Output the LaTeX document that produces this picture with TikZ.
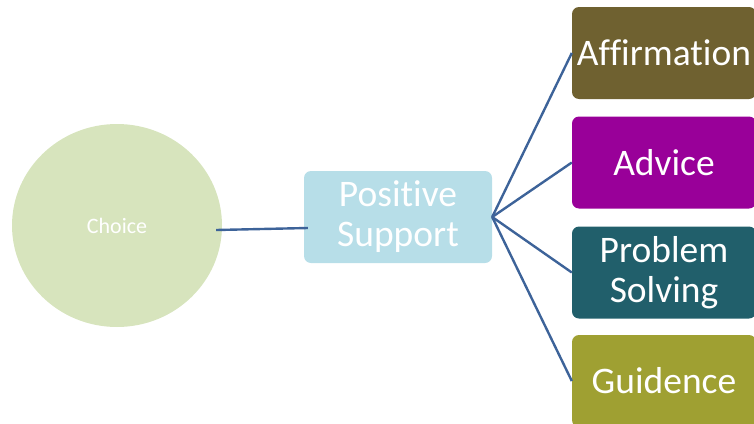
\documentclass[tikz,border=0pt]{standalone}
\usepackage{fontspec}
\setmainfont{Carlito}[Ligatures=NoCommon]
\usetikzlibrary{shapes.geometric}
\definecolor{circfill}{HTML}{D7E4BD}
\definecolor{psfill}{HTML}{B7DEE8}
\definecolor{affill}{HTML}{6F6130}
\definecolor{adfill}{HTML}{990099}
\definecolor{pbfill}{HTML}{215F6B}
\definecolor{gdfill}{HTML}{9FA032}
\definecolor{linkcol}{HTML}{3D6399}
\tikzset{
  bigbox/.style={rectangle, rounded corners=7pt, minimum width=184pt, minimum height=92pt,
    inner sep=0pt, text=white, align=center, font=\fontsize{37.5pt}{40pt}\selectfont},
  link/.style={draw=linkcol, line width=2.4pt}
}
\begin{document}
\begin{tikzpicture}[x=1pt,y=-1pt]
\useasboundingbox (0,0) rectangle (754,423);
\node[ellipse, fill=circfill, minimum width=210pt, minimum height=203pt, inner sep=0pt,
  text=white, font=\fontsize{22pt}{26pt}\selectfont] (choice) at (117,225.5) {Choice};
\node[bigbox, fill=psfill, minimum width=188pt] (ps) at (398,217) {Positive\\Support};
\node[bigbox, fill=affill] (af) at (664,53) {Affirmation};
\node[bigbox, fill=adfill] (ad) at (664,162.5) {Advice};
\node[bigbox, fill=pbfill] (pb) at (664,272.5) {Problem\\Solving};
\node[bigbox, fill=gdfill] (gd) at (664,381) {Guidence};
\draw[link] ([xshift=-6pt,yshift=-4.5pt]choice.east) -- ([xshift=4pt,yshift=-11pt]ps.west);
\draw[link] (ps.east) -- (af.west);
\draw[link] (ps.east) -- (ad.west);
\draw[link] (ps.east) -- (pb.west);
\draw[link] (ps.east) -- (gd.west);
\end{tikzpicture}
\end{document}
